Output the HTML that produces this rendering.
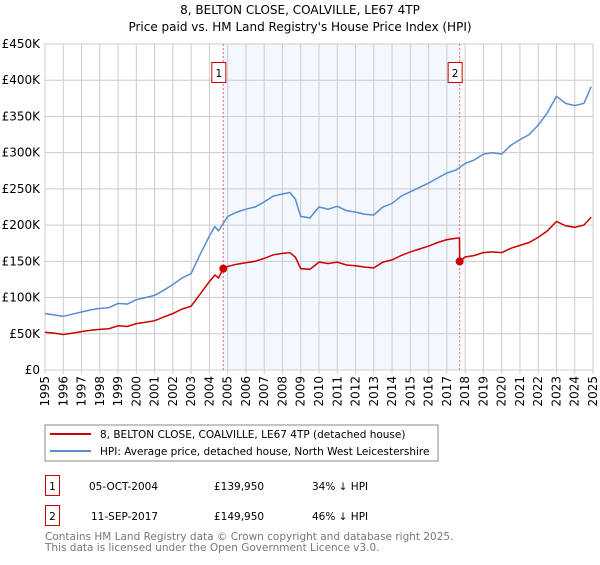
<!DOCTYPE html>
<html><head><meta charset="utf-8"><style>
body{margin:0;background:#fff;font-family:"Liberation Sans","DejaVu Sans",sans-serif;}
svg text{font-family:"DejaVu Sans","Liberation Sans",sans-serif;}
</style></head><body>
<svg id="c" width="600" height="560" xmlns="http://www.w3.org/2000/svg">
<text x="300" y="14" text-anchor="middle" font-size="12">8, BELTON CLOSE, COALVILLE, LE67 4TP</text>
<text x="300" y="31" text-anchor="middle" font-size="12">Price paid vs. HM Land Registry's House Price Index (HPI)</text>
<g id="grid"></g><g id="marks"></g>
<rect x="45" y="425" width="393" height="36" fill="#fff" stroke="#888"/>
<line x1="50" y1="434" x2="91" y2="434" stroke="#cc0000" stroke-width="2"/>
<text x="100" y="438" font-size="10.5">8, BELTON CLOSE, COALVILLE, LE67 4TP (detached house)</text>
<line x1="50" y1="451" x2="91" y2="451" stroke="#5b8ccf" stroke-width="2"/>
<text x="100" y="455" font-size="10.5">HPI: Average price, detached house, North West Leicestershire</text>
<rect x="45.5" y="475.5" width="14" height="20" fill="none" stroke="#cc0000"/>
<text x="52.5" y="490" font-size="10.5" text-anchor="middle">1</text>
<text x="89" y="490" font-size="10.5">05-OCT-2004</text>
<text x="214" y="490" font-size="10.5">£139,950</text>
<text x="312" y="490" font-size="10.5">34% ↓ HPI</text>
<rect x="45.5" y="505.5" width="14" height="20" fill="none" stroke="#cc0000"/>
<text x="52.5" y="520" font-size="10.5" text-anchor="middle">2</text>
<text x="91" y="520" font-size="10.5">11-SEP-2017</text>
<text x="214" y="520" font-size="10.5">£149,950</text>
<text x="312" y="520" font-size="10.5">46% ↓ HPI</text>
<text x="45" y="540" font-size="10.5" fill="#777">Contains HM Land Registry data © Crown copyright and database right 2025.</text>
<text x="45" y="551" font-size="10.5" fill="#777">This data is licensed under the Open Government Licence v3.0.</text>
</svg>
<script>
const yTicks=[0,50,100,150,200,250,300,350,400,450];
const yTickLabels=["£0","£50K","£100K","£150K","£200K","£250K","£300K","£350K","£400K","£450K"];
const years=[1995,1996,1997,1998,1999,2000,2001,2002,2003,2004,2005,2006,2007,2008,2009,2010,2011,2012,2013,2014,2015,2016,2017,2018,2019,2020,2021,2022,2023,2024,2025];
const hpiX=[1995,1995.5,1996,1996.5,1997,1997.5,1998,1998.5,1999,1999.5,2000,2000.5,2001,2001.5,2002,2002.5,2003,2003.5,2004,2004.3,2004.5,2005,2005.5,2006,2006.5,2007,2007.5,2008,2008.4,2008.7,2009,2009.5,2010,2010.5,2011,2011.5,2012,2012.5,2013,2013.5,2014,2014.5,2015,2015.5,2016,2016.5,2017,2017.5,2018,2018.5,2019,2019.5,2020,2020.5,2021,2021.5,2022,2022.5,2023,2023.5,2024,2024.5,2024.9];
const hpiY=[78,76,74,77,80,83,85,86,92,91,97,100,103,110,118,127,133,160,185,198,192,212,218,222,225,232,240,243,245,236,212,210,225,222,226,220,218,215,214,225,230,240,246,252,258,265,272,276,285,290,298,300,298,310,318,325,338,355,378,368,365,368,391];
const saleX=[2004.76,2017.7];
const saleY=[139.95,149.95];
const redX=[1995,1995.5,1996,1996.5,1997,1997.5,1998,1998.5,1999,1999.5,2000,2000.5,2001,2001.5,2002,2002.5,2003,2003.5,2004,2004.3,2004.5,2004.76,2005,2005.5,2006,2006.5,2007,2007.5,2008,2008.4,2008.7,2009,2009.5,2010,2010.5,2011,2011.5,2012,2012.5,2013,2013.5,2014,2014.5,2015,2015.5,2016,2016.5,2017,2017.5,2017.69,2017.7,2018,2018.5,2019,2019.5,2020,2020.5,2021,2021.5,2022,2022.5,2023,2023.5,2024,2024.5,2024.9];
const redY=[52,51,49,51,53,55,56,57,61,60,64,66,68,73,78,84,88,105,122,131,127,139.95,143,146,148,150,154,159,161,162,156,140,139,149,147,149,145,144,142,141,149,152,158,163,167,171,176,180,182,182,149.95,156,158,162,163,162,168,172,176,183,192,205,199,197,200,211];
const X=v=>45+(v-1995)*(548/30), Y=v=>370-v*326/450;
const NS="http://www.w3.org/2000/svg";
function mk(p,t,a){const e=document.createElementNS(NS,t);for(const k in a)e.setAttribute(k,a[k]);p.appendChild(e);return e;}
const g=document.getElementById('grid'),m=document.getElementById('marks');
const sh=mk(g,'rect',{x:X(saleX[0]),y:Y(450),width:X(saleX[1])-X(saleX[0]),height:Y(0)-Y(450),fill:'#eef3fd',opacity:0.7});


yTicks.forEach((t,i)=>{
 const l=mk(g,'line',{x1:45,x2:593,y1:Y(t),y2:Y(t),stroke:'#ccc'});
 
 
 const tx=mk(g,'text',{x:40,y:Y(t)+4,'text-anchor':'end','font-size':12});
 tx.textContent=yTickLabels[i];
 
 
});
years.forEach(yr=>{
 const l=mk(g,'line',{x1:X(yr),x2:X(yr),y1:Y(450),y2:Y(0)+4,stroke:'#ccc'});
 
 
 const tx=mk(g,'text',{x:0,y:0,'font-size':12,'text-anchor':'end',transform:`translate(${X(yr)+4},376) rotate(-90)`});
 tx.textContent=yr;
 
 
});
const ax=mk(g,'rect',{x:45,y:Y(450),width:548,height:Y(0)-Y(450),fill:'none',stroke:'#ccc'});


saleX.forEach((s,i)=>{
 const l=mk(m,'line',{x1:X(s),x2:X(s),y1:Y(450),y2:Y(0),stroke:'#e66',"stroke-dasharray":"2,2"});
 
 
 const b=mk(m,'rect',{x:X(s)-11.5,y:62.5,width:14,height:20,fill:'#fff',stroke:'#cc0000'});
 
 
 const t=mk(m,'text',{x:X(s)-4.5,y:77,'font-size':10.5,'text-anchor':'middle'});
 t.textContent=String(i+1);
 
 
});
const path=(xs,ys)=>xs.map((x,i)=>(i?'L':'M')+X(x).toFixed(1)+','+Y(ys[i]).toFixed(1)).join('');
const hp=mk(m,'path',{d:path(hpiX,hpiY),fill:'none',stroke:'#5b8ccf','stroke-width':1.5});


const rp=mk(m,'path',{d:path(redX,redY),fill:'none',stroke:'#cc0000','stroke-width':1.5});


saleX.forEach((s,i)=>{
 const c=mk(m,'circle',{cx:X(s),cy:Y(saleY[i]),r:4,fill:'#cc0000'});
 
 
});
</script>
</body></html>
